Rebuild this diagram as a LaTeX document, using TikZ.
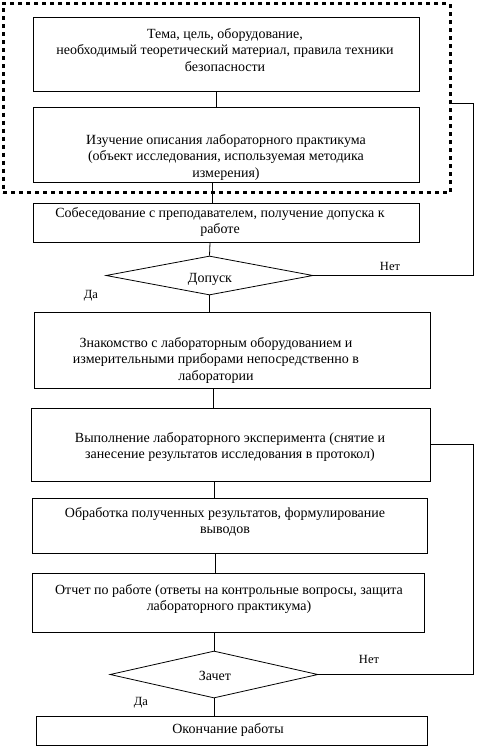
\documentclass[tikz,border=0pt]{standalone}
\usepackage{fontspec}
\setmainfont{Liberation Serif}
\usetikzlibrary{shapes.geometric}
\begin{document}
\begin{tikzpicture}[x=1pt,y=-1pt,
  box/.style={draw,line width=0.8pt,rectangle,inner sep=0pt,anchor=north west},
  txt/.style={align=center,inner sep=0pt,font=\fontsize{14}{16.5}\selectfont},
  dec/.style={draw,line width=0.8pt,diamond,aspect=5.3,inner sep=0pt},
  lbl/.style={inner sep=0pt,font=\fontsize{12.5}{14}\selectfont},
  conn/.style={line width=0.8pt}]
\useasboundingbox (0,0) rectangle (477,747);
\fill[white] (0,0) rectangle (477,747);
% dotted frame
\node[draw,line width=3pt,dash pattern=on 4pt off 4pt,rectangle,inner sep=0pt,anchor=north west,minimum width=447pt,minimum height=189pt] (frame) at (1.5,2) {};
% boxes
\node[box,minimum width=386pt,minimum height=74pt] (b1) at (33,17) {};
\node[txt] (t1) at (225,50) {Тема, цель, оборудование,\\необходимый теоретический материал, правила техники\\безопасности};
\node[box,minimum width=386pt,minimum height=75pt] (b2) at (33,107) {};
\node[txt] (t2) at (226,157) {Изучение описания лабораторного практикума\\(объект исследования, используемая методика\\измерения)};
\node[box,minimum width=386pt,minimum height=39pt] (b3) at (33,203) {};
\node[txt] (t3) at (220,222) {Собеседование с преподавателем, получение допуска к\\работе};
\node[dec,minimum width=207pt,minimum height=39pt] (d1) at (209.5,275.5) {};
\node[txt] (td1) at (210,279) {Допуск};
\node[box,minimum width=396pt,minimum height=76pt] (b4) at (34,312) {};
\node[txt] (t4) at (216,360) {Знакомство с лабораторным оборудованием и\\измерительными приборами непосредственно в\\лаборатории};
\node[box,minimum width=399pt,minimum height=73pt] (b5) at (31,408) {};
\node[txt] (t5) at (230,447) {Выполнение лабораторного эксперимента (снятие и\\занесение результатов исследования в протокол)};
\node[box,minimum width=395pt,minimum height=55pt] (b6) at (32,498) {};
\node[txt] (t6) at (225,522) {Обработка полученных результатов, формулирование\\выводов};
\node[box,minimum width=392pt,minimum height=59pt] (b7) at (32,573) {};
\node[txt] (t7) at (229,599) {Отчет по работе (ответы на контрольные вопросы, защита\\лабораторного практикума)};
\node[dec,minimum width=208pt,minimum height=47pt] (d2) at (214,674.5) {};
\node[txt] (td2) at (215,676) {Зачет};
\node[box,minimum width=391pt,minimum height=29pt] (b8) at (36,716) {};
\node[txt] (t8) at (228,730) {Окончание работы};
% labels
\node[lbl] (n1) at (390,266.5) {Нет};
\node[lbl] (y1) at (91,296) {Да};
\node[lbl] (n2) at (369,659) {Нет};
\node[lbl] (y2) at (141,703) {Да};
% connectors
\draw[conn] (216,0 |- b1.south) -- (216,0 |- b2.north);
\draw[conn] (212,0 |- b2.south) -- (212,0 |- b3.north);
\draw[conn] (210,0 |- b3.south) -- (d1.north);
\draw[conn] (d1.south) -- (209.5,0 |- b4.north);
\draw[conn] (213,0 |- b4.south) -- (213,0 |- b5.north);
\draw[conn] (214,0 |- b5.south) -- (214,0 |- b6.north);
\draw[conn] (215,0 |- b6.south) -- (215,0 |- b7.north);
\draw[conn] (214,0 |- b7.south) -- (d2.north);
\draw[conn] (d2.south) -- (214,0 |- b8.north);
\coordinate (r1) at (473,103);
\coordinate (r2) at (473,444);
\draw[conn] (d1.east) -| (r1) -- (frame.east |- r1);
\draw[conn] (d2.east) -| (r2) -- (b5.east |- r2);
\end{tikzpicture}
\end{document}
